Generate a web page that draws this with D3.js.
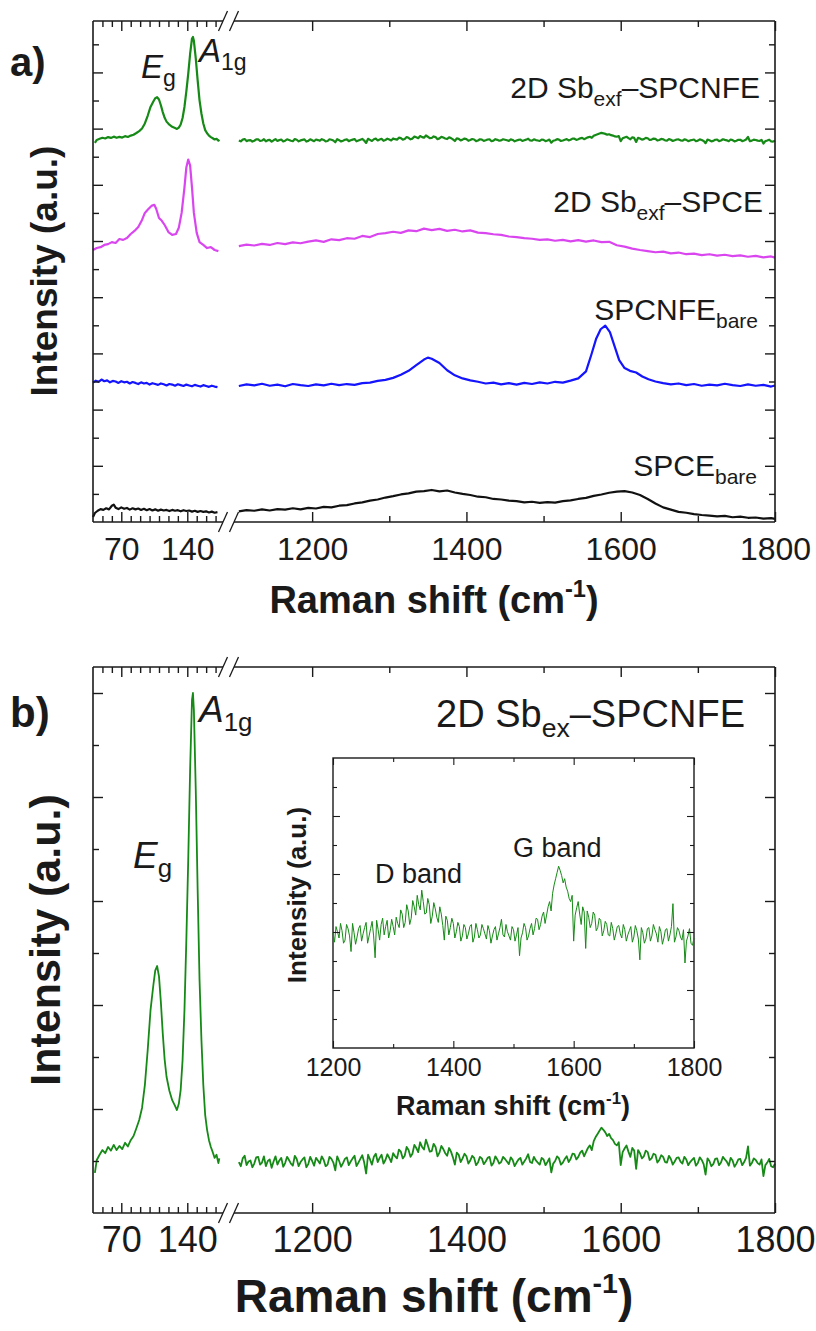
<!DOCTYPE html>
<html>
<head>
<meta charset="utf-8">
<script src="https://cdn.jsdelivr.net/npm/d3@7"></script>
<style>
  body { margin: 0; background: #fff; }
</style>
</head>
<body>
<div class="viz"></div>
<script>
// ---- spectra, [wavenumber (cm-1), intensity (a.u.)] ----
// 2D Sb exf on SPCNFE (same spectrum is used in a) top trace, b) and the inset)
const sbLow = [[42,0.77],[44,1.02],[47,1.12],[50,1.21],[53,1.15],[56,1.27],[59,1.20],[62,1.31],[65,1.21],[68,1.29],[71,1.23],[74,1.35],[77,1.28],[80,1.40],[83,1.48],[86,1.63],[89,1.79],[92,2.02],[95,2.46],[98,3.13],[101,3.90],[104,4.38],[106,4.66],[108,4.75],[110,4.55],[112,4.05],[114,3.45],[116,2.95],[118,2.62],[121,2.35],[124,2.17],[127,2.06],[129,1.98],[131,2.10],[133,2.37],[135,2.94],[137,3.90],[139,5.25],[141,6.79],[143,8.52],[145,9.87],[146,10.0],[147,9.67],[149,8.13],[151,6.21],[153,4.48],[155,3.33],[157,2.46],[159,1.88],[161,1.60],[163,1.40],[165,1.27],[167,1.17],[169,1.06],[171,1.12],[173,0.96],[174,1.05]];
const sbHigh = [[1105,0.98],[1110,1.05],[1115,0.92],[1120,1.01],[1125,0.95],[1130,1.08],[1135,0.97],[1140,0.90],[1145,1.03],[1150,0.99],[1155,0.93],[1160,1.06],[1165,0.96],[1170,1.02],[1175,0.91],[1180,1.04],[1185,0.98],[1190,1.07],[1195,0.94],[1200,1.00],[1205,1.06],[1210,0.95],[1215,1.02],[1220,0.93],[1225,1.04],[1230,0.82],[1235,1.00],[1240,0.96],[1245,1.07],[1250,0.99],[1255,1.10],[1260,0.97],[1265,1.11],[1270,0.76],[1275,1.03],[1280,1.08],[1285,0.98],[1290,1.12],[1295,1.02],[1300,1.06],[1305,1.15],[1310,1.05],[1315,1.18],[1320,1.10],[1325,1.21],[1330,1.14],[1335,1.25],[1340,1.36],[1345,1.22],[1350,1.30],[1355,1.19],[1360,1.27],[1365,1.16],[1370,1.23],[1375,1.10],[1380,1.18],[1385,0.93],[1390,1.12],[1395,1.05],[1400,1.09],[1405,1.01],[1410,1.06],[1415,0.97],[1420,1.05],[1425,0.99],[1430,1.08],[1435,0.96],[1440,1.03],[1445,0.98],[1450,1.04],[1455,0.94],[1460,1.02],[1465,0.97],[1470,1.06],[1475,0.99],[1480,1.13],[1485,0.96],[1490,1.01],[1495,0.93],[1500,1.03],[1505,0.98],[1510,0.78],[1515,1.00],[1520,1.05],[1525,0.97],[1530,1.09],[1535,1.04],[1540,1.13],[1545,1.08],[1550,1.20],[1555,1.17],[1560,1.30],[1565,1.38],[1570,1.52],[1575,1.64],[1580,1.55],[1585,1.52],[1590,1.40],[1595,1.30],[1600,0.92],[1605,1.24],[1610,1.18],[1615,1.25],[1620,0.85],[1625,1.15],[1630,1.09],[1635,1.17],[1640,1.05],[1645,1.12],[1650,1.02],[1655,1.08],[1660,0.97],[1665,1.04],[1670,0.99],[1675,1.07],[1680,0.95],[1685,1.03],[1690,0.98],[1695,1.06],[1700,0.96],[1705,1.02],[1710,0.74],[1715,1.00],[1720,0.94],[1725,1.05],[1730,0.97],[1735,1.03],[1740,0.91],[1745,1.01],[1750,0.95],[1755,1.04],[1760,0.98],[1765,1.28],[1770,0.96],[1775,1.02],[1780,0.93],[1785,0.71],[1790,0.97],[1795,0.90],[1800,0.95]];
// readings taken between the points above (the trace is very noisy)
const sbHighMid = [[1107.5,0.90],[1112.5,1.10],[1117.5,0.99],[1122.5,0.88],[1127.5,1.07],[1132.5,0.93],[1137.5,1.09],[1142.5,1.00],[1147.5,0.87],[1152.5,1.09],[1157.5,1.01],[1162.5,0.89],[1167.5,1.08],[1172.5,0.95],[1177.5,1.10],[1182.5,0.90],[1187.5,1.03],[1192.5,0.88],[1197.5,1.08],[1202.5,0.91],[1207.5,1.01],[1212.5,1.09],[1217.5,0.90],[1222.5,1.08],[1227.5,0.97],[1232.5,1.09],[1237.5,0.89],[1242.5,1.04],[1247.5,0.92],[1252.5,1.05],[1257.5,0.90],[1262.5,1.04],[1267.5,0.97],[1272.5,1.12],[1277.5,0.93],[1282.5,1.14],[1287.5,1.06],[1292.5,0.95],[1297.5,1.13],[1302.5,0.98],[1307.5,1.09],[1312.5,1.22],[1317.5,1.05],[1322.5,1.27],[1327.5,1.08],[1332.5,1.31],[1337.5,1.17],[1342.5,1.27],[1347.5,1.41],[1352.5,1.18],[1357.5,1.33],[1362.5,1.09],[1367.5,1.29],[1372.5,1.15],[1377.5,1.25],[1382.5,1.07],[1387.5,1.16],[1392.5,0.98],[1397.5,1.14],[1402.5,0.95],[1407.5,1.10],[1412.5,0.92],[1417.5,1.08],[1422.5,0.94],[1427.5,1.06],[1432.5,0.91],[1437.5,1.09],[1442.5,0.95],[1447.5,1.08],[1452.5,0.99],[1457.5,1.07],[1462.5,0.90],[1467.5,1.03],[1472.5,0.93],[1477.5,1.05],[1482.5,0.98],[1487.5,1.08],[1492.5,0.97],[1497.5,1.06],[1502.5,0.92],[1507.5,1.05],[1512.5,0.95],[1517.5,1.09],[1522.5,0.93],[1527.5,1.04],[1532.5,0.98],[1537.5,1.14],[1542.5,1.03],[1547.5,1.16],[1552.5,1.09],[1557.5,1.25],[1562.5,1.21],[1567.5,1.46],[1572.5,1.58],[1577.5,1.60],[1582.5,1.48],[1587.5,1.44],[1592.5,1.33],[1597.5,1.36],[1602.5,1.17],[1607.5,1.30],[1612.5,1.08],[1617.5,1.20],[1622.5,1.21],[1627.5,1.05],[1632.5,1.20],[1637.5,1.02],[1642.5,1.14],[1647.5,0.97],[1652.5,1.11],[1657.5,0.98],[1662.5,1.10],[1667.5,0.93],[1672.5,1.06],[1677.5,0.99],[1682.5,1.08],[1687.5,0.92],[1692.5,1.02],[1697.5,0.91],[1702.5,1.07],[1707.5,0.94],[1712.5,1.05],[1717.5,0.90],[1722.5,1.04],[1727.5,0.92],[1732.5,1.08],[1737.5,0.99],[1742.5,1.06],[1747.5,0.89],[1752.5,1.03],[1757.5,0.92],[1762.5,1.06],[1767.5,0.91],[1772.5,1.05],[1777.5,0.96],[1782.5,1.03],[1787.5,0.92],[1792.5,1.04],[1797.5,0.88]];

// 2D Sb exf on SPCE
const sbSpceLow = [[40,0.28],[44,0.35],[48,0.38],[52,0.46],[56,0.49],[60,0.56],[64,0.53],[68,0.67],[72,0.64],[76,0.71],[80,0.85],[84,0.96],[88,1.10],[92,1.35],[95,1.60],[98,1.71],[102,1.85],[105,1.89],[107,1.75],[110,1.42],[113,1.32],[116,1.17],[120,0.92],[124,0.82],[128,0.85],[131,1.07],[134,1.60],[137,2.50],[139,3.22],[141,3.50],[143,3.29],[145,2.50],[147,1.60],[150,0.89],[153,0.56],[157,0.46],[161,0.35],[165,0.38],[169,0.28],[173,0.24]];
const sbSpceHigh = [[1105,0.42],[1115,0.47],[1125,0.44],[1135,0.50],[1145,0.46],[1155,0.53],[1165,0.49],[1175,0.55],[1185,0.52],[1195,0.58],[1205,0.62],[1215,0.57],[1225,0.66],[1235,0.63],[1245,0.70],[1255,0.68],[1265,0.78],[1275,0.74],[1285,0.85],[1295,0.88],[1305,0.93],[1315,0.89],[1325,0.98],[1335,0.95],[1345,1.04],[1355,0.99],[1365,1.03],[1375,0.96],[1385,1.00],[1395,0.94],[1405,0.98],[1415,0.90],[1425,0.88],[1435,0.84],[1445,0.82],[1455,0.76],[1465,0.74],[1475,0.70],[1485,0.68],[1495,0.64],[1505,0.66],[1515,0.61],[1525,0.64],[1535,0.59],[1545,0.63],[1555,0.58],[1565,0.62],[1575,0.56],[1585,0.57],[1595,0.45],[1605,0.40],[1615,0.33],[1625,0.28],[1635,0.24],[1645,0.20],[1655,0.22],[1665,0.16],[1675,0.19],[1685,0.13],[1695,0.15],[1705,0.10],[1715,0.13],[1725,0.08],[1735,0.11],[1745,0.06],[1755,0.09],[1765,0.04],[1775,0.07],[1785,0.02],[1795,0.05],[1800,0.01]];

// bare SPCNFE
const cnfLow = [[40,0.30],[43,0.37],[46,0.33],[49,0.41],[52,0.35],[55,0.38],[58,0.31],[61,0.36],[64,0.34],[67,0.29],[70,0.35],[73,0.31],[76,0.33],[79,0.27],[82,0.32],[85,0.29],[88,0.25],[91,0.31],[94,0.27],[97,0.29],[100,0.23],[103,0.28],[106,0.25],[109,0.22],[112,0.27],[115,0.24],[118,0.20],[121,0.25],[124,0.23],[127,0.19],[130,0.24],[133,0.21],[136,0.18],[139,0.23],[142,0.20],[145,0.17],[148,0.22],[151,0.19],[154,0.16],[157,0.21],[160,0.18],[163,0.15],[166,0.19],[169,0.16],[172,0.14]];
const cnfHigh = [[1105,0.18],[1115,0.24],[1125,0.20],[1135,0.26],[1145,0.19],[1155,0.23],[1165,0.17],[1175,0.25],[1185,0.21],[1195,0.18],[1205,0.24],[1215,0.20],[1225,0.26],[1235,0.21],[1245,0.25],[1255,0.22],[1265,0.28],[1275,0.30],[1285,0.36],[1295,0.40],[1305,0.47],[1315,0.58],[1325,0.72],[1335,0.92],[1345,1.12],[1350,1.19],[1355,1.15],[1365,1.00],[1375,0.74],[1385,0.56],[1395,0.45],[1405,0.38],[1415,0.33],[1425,0.27],[1435,0.30],[1445,0.24],[1455,0.28],[1465,0.23],[1475,0.29],[1485,0.25],[1495,0.31],[1505,0.27],[1515,0.33],[1525,0.30],[1535,0.37],[1545,0.45],[1555,0.70],[1562,1.30],[1568,1.85],[1574,2.20],[1580,2.33],[1586,2.10],[1592,1.60],[1598,1.10],[1605,0.82],[1612,0.72],[1620,0.66],[1628,0.52],[1636,0.42],[1645,0.34],[1655,0.28],[1665,0.24],[1675,0.27],[1685,0.21],[1695,0.25],[1705,0.19],[1715,0.23],[1725,0.20],[1735,0.26],[1745,0.21],[1755,0.18],[1765,0.24],[1775,0.19],[1785,0.22],[1795,0.16],[1800,0.20]];

// bare SPCE
const spceLow = [[40,0.18],[42,0.32],[45,0.40],[48,0.46],[51,0.43],[54,0.49],[57,0.45],[60,0.58],[62,0.62],[64,0.51],[67,0.46],[70,0.52],[73,0.47],[76,0.50],[79,0.44],[82,0.49],[85,0.45],[88,0.48],[91,0.43],[94,0.47],[97,0.42],[100,0.46],[103,0.41],[106,0.45],[109,0.40],[112,0.44],[115,0.41],[118,0.43],[121,0.39],[124,0.43],[127,0.40],[130,0.42],[133,0.38],[136,0.42],[139,0.39],[142,0.41],[145,0.37],[148,0.40],[151,0.36],[154,0.39],[157,0.36],[160,0.38],[163,0.34],[166,0.37],[169,0.33],[172,0.35]];
const spceHigh = [[1105,0.38],[1115,0.42],[1125,0.40],[1135,0.45],[1145,0.41],[1155,0.46],[1165,0.44],[1175,0.49],[1185,0.45],[1195,0.50],[1205,0.48],[1215,0.54],[1225,0.52],[1235,0.58],[1245,0.60],[1255,0.66],[1265,0.70],[1275,0.76],[1285,0.80],[1295,0.87],[1305,0.92],[1315,0.98],[1325,1.02],[1335,1.08],[1345,1.10],[1355,1.14],[1365,1.09],[1375,1.12],[1385,1.05],[1395,1.00],[1405,0.96],[1415,0.90],[1425,0.88],[1435,0.82],[1445,0.80],[1455,0.76],[1465,0.74],[1475,0.70],[1485,0.72],[1495,0.68],[1505,0.71],[1515,0.69],[1525,0.74],[1535,0.77],[1545,0.82],[1555,0.86],[1565,0.93],[1575,0.98],[1585,1.04],[1595,1.08],[1605,1.10],[1615,1.05],[1625,0.96],[1635,0.82],[1645,0.66],[1655,0.52],[1665,0.44],[1675,0.36],[1685,0.33],[1695,0.28],[1705,0.25],[1715,0.23],[1725,0.20],[1735,0.22],[1745,0.17],[1755,0.19],[1765,0.15],[1775,0.16],[1785,0.12],[1795,0.14],[1800,0.11]];

// ---- axis ticks ----
const lowMajor = [70, 140];
const lowMinor = [50, 60, 80, 90, 100, 110, 120, 130, 150, 160, 170];
const highMajor = [1200, 1400, 1600, 1800];
const highMinor = [1300, 1500, 1700];
const insetMajor = [1200, 1400, 1600, 1800];
const insetMinor = [1300, 1500, 1700];

const ink = "#1a1a1a";
const font = "'Liberation Sans', Arial, Helvetica, sans-serif";
const colors = { sb: "#168a16", sbSpce: "#d946ef", cnf: "#1414ff", spce: "#111111" };

const sbHighAll = sbHigh.concat(sbHighMid).sort((a, b) => a[0] - b[0]);

const width = 816, height = 1331;
const frameL = 93, frameR = 775, breakL = 223, breakR = 234;

const lowX = d3.scaleLinear().domain([40, 180]).range([frameL, 225]);
const highX = d3.scaleLinear().domain([1100, 1800]).range([235, frameR]);

const svg = d3.select(".viz").append("svg")
  .attr("width", width)
  .attr("height", height)
  .style("display", "block")
  .attr("font-family", font);

function styleAxis(a, fontSize, lw) {
  a.select(".domain").remove();
  a.selectAll("line").attr("stroke", ink).attr("stroke-width", lw);
  a.selectAll("text").attr("font-size", fontSize).attr("fill", ink).attr("font-family", font);
}

// inward ticks on all four sides of a frame
function tickSet(g, y, opt) {
  const [bottom, top] = y.range();
  const [left, right] = opt.xEdges;
  const fmt = d3.format("d");
  const add = (axis, tr, size, labels) => {
    const a = g.append("g").attr("transform", tr)
      .call(axis.tickSize(-size).tickPadding(opt.pad).tickFormat(labels ? fmt : ""));
    styleAxis(a, opt.tickFont, opt.lw);
  };
  opt.xSets.forEach(s => {
    add(d3.axisBottom(s.scale).tickValues(s.major), `translate(0,${bottom})`, opt.major, true);
    add(d3.axisBottom(s.scale).tickValues(s.minor), `translate(0,${bottom})`, opt.minor, false);
    add(d3.axisTop(s.scale).tickValues(s.major), `translate(0,${top})`, opt.major, false);
    add(d3.axisTop(s.scale).tickValues(s.minor), `translate(0,${top})`, opt.minor, false);
  });
  const yMajor = opt.yTicks.filter((d, i) => i % 2 === 1);
  const yMinor = opt.yTicks.filter((d, i) => i % 2 === 0);
  [[yMajor, opt.major], [yMinor, opt.minor]].forEach(([vals, size]) => {
    add(d3.axisLeft(y).tickValues(vals), `translate(${left},0)`, size, false);
    add(d3.axisRight(y).tickValues(vals), `translate(${right},0)`, size, false);
  });
}

function brokenFrame(g, y) {
  const [bottom, top] = y.range();
  const f = g.append("g").attr("stroke", ink).attr("stroke-width", 1.6).attr("fill", "none");
  f.append("line").attr("x1", frameL).attr("x2", frameL).attr("y1", top).attr("y2", bottom);
  f.append("line").attr("x1", frameR).attr("x2", frameR).attr("y1", top).attr("y2", bottom);
  [top, bottom].forEach(yy => {
    f.append("line").attr("x1", frameL).attr("x2", breakL).attr("y1", yy).attr("y2", yy);
    f.append("line").attr("x1", breakR).attr("x2", frameR).attr("y1", yy).attr("y2", yy);
    [breakL, breakR].forEach(bx => {
      f.append("line")
        .attr("x1", bx - 4.5).attr("y1", yy + 10)
        .attr("x2", bx + 4.5).attr("y2", yy - 10)
        .attr("stroke-width", 1.3);
    });
  });
}

// text made of runs; run = {t, sub, sup, it}
function richText(g, x, y, runs, size, opt = {}) {
  const t = g.append("text")
    .attr("x", x).attr("y", y)
    .attr("font-size", size)
    .attr("fill", ink)
    .attr("text-anchor", opt.anchor || "start")
    .attr("font-weight", opt.bold ? "bold" : "normal");
  if (opt.transform) t.attr("transform", opt.transform);
  let shift = 0;
  runs.forEach(r => {
    const s = t.append("tspan").text(r.t);
    let target = 0;
    if (r.sub) { s.attr("font-size", size * 0.7); target = size * 0.25; }
    if (r.sup) { s.attr("font-size", size * 0.62); target = -size * 0.42; }
    if (r.it) s.attr("font-style", "italic");
    if (target !== shift) { s.attr("dy", target - shift); shift = target; }
  });
  return t;
}

function yTickValues(y, n) {
  const [y0, y1] = y.domain();
  return d3.range(1, n).map(i => y0 + i * (y1 - y0) / n);
}

function drawSpectrum(g, x, y, data, color, lw, offset = 0, scale = 1) {
  g.append("path")
    .datum(data)
    .attr("fill", "none")
    .attr("stroke", color)
    .attr("stroke-width", lw)
    .attr("stroke-linejoin", "round")
    .attr("d", d3.line().x(d => x(d[0])).y(d => y(offset + scale * d[1])));
}

const xSets = [
  { scale: lowX, major: lowMajor, minor: lowMinor },
  { scale: highX, major: highMajor, minor: highMinor }
];

// ================= panel a) =================
const ga = svg.append("g");
const yA = d3.scaleLinear().domain([0, 17.83]).range([522, 21]);

const stackA = [
  { low: sbLow, high: sbHighAll, color: colors.sb, offset: 13.18, scale: 0.408 },
  { low: sbSpceLow, high: sbSpceHigh, color: colors.sbSpce, offset: 9.4, scale: 1 },
  { low: cnfLow, high: cnfHigh, color: colors.cnf, offset: 4.66, scale: 1 },
  { low: spceLow, high: spceHigh, color: colors.spce, offset: 0, scale: 1 }
];
stackA.forEach(s => {
  drawSpectrum(ga, lowX, yA, s.low, s.color, 2.2, s.offset, s.scale);
  drawSpectrum(ga, highX, yA, s.high, s.color, 2.2, s.offset, s.scale);
});

brokenFrame(ga, yA);
tickSet(ga, yA, {
  xEdges: [frameL, frameR], xSets, yTicks: d3.range(1, 18),
  major: 10, minor: 6, pad: 15, tickFont: 32, lw: 1.4
});

richText(ga, 10, 76, [{ t: "a)" }], 40, { bold: true });
richText(ga, 141, 78, [{ t: "E", it: true }, { t: "g", sub: true }], 33);
richText(ga, 199, 62, [{ t: "A", it: true }, { t: "1g", sub: true }], 33);

richText(ga, 760, 98, [{ t: "2D Sb" }, { t: "exf", sub: true }, { t: "\u2013SPCNFE" }], 30, { anchor: "end" });
richText(ga, 763, 212, [{ t: "2D Sb" }, { t: "exf", sub: true }, { t: "\u2013SPCE" }], 30, { anchor: "end" });
richText(ga, 758, 320, [{ t: "SPCNFE" }, { t: "bare", sub: true }], 30, { anchor: "end" });
richText(ga, 757, 476, [{ t: "SPCE" }, { t: "bare", sub: true }], 30, { anchor: "end" });

richText(ga, 0, 0, [{ t: "Intensity (a.u.)" }], 37,
  { bold: true, anchor: "middle", transform: "translate(57,271) rotate(-90)" });
richText(ga, 434, 613, [{ t: "Raman shift (cm" }, { t: "-1", sup: true }, { t: ")" }], 38,
  { bold: true, anchor: "middle" });

// ================= panel b) =================
const gb = svg.append("g");
const yB = d3.scaleLinear().domain([0, 10.5]).range([1213, 667]);

drawSpectrum(gb, lowX, yB, sbLow, colors.sb, 1.8);
drawSpectrum(gb, highX, yB, sbHighAll, colors.sb, 1.8);

brokenFrame(gb, yB);
tickSet(gb, yB, {
  xEdges: [frameL, frameR], xSets, yTicks: d3.range(1, 11),
  major: 10, minor: 6, pad: 13, tickFont: 36, lw: 1.4
});

richText(gb, 10, 727, [{ t: "b)" }], 42, { bold: true });
richText(gb, 133, 868, [{ t: "E", it: true }, { t: "g", sub: true }], 37);
richText(gb, 199, 722, [{ t: "A", it: true }, { t: "1g", sub: true }], 37);
richText(gb, 745, 727, [{ t: "2D Sb" }, { t: "ex", sub: true }, { t: "\u2013SPCNFE" }], 38, { anchor: "end" });

richText(gb, 0, 0, [{ t: "Intensity (a.u.)" }], 43,
  { bold: true, anchor: "middle", transform: "translate(60,940) rotate(-90)" });
richText(gb, 434, 1312, [{ t: "Raman shift (cm" }, { t: "-1", sup: true }, { t: ")" }], 46,
  { bold: true, anchor: "middle" });

// ---- inset ----
const gi = gb.append("g");
const xIn = d3.scaleLinear().domain([1200, 1800]).range([333, 694]);
const yIn = d3.scaleLinear().domain([-0.107, 2.68]).range([1048, 758]);

gi.append("rect")
  .attr("x", 333).attr("y", 758).attr("width", 694 - 333).attr("height", 1048 - 758)
  .attr("fill", "#fff").attr("stroke", ink).attr("stroke-width", 1.4);

drawSpectrum(gi, xIn, yIn, sbHighAll.filter(d => d[0] >= 1200), colors.sb, 1.0);

tickSet(gi, yIn, {
  xEdges: [333, 694],
  xSets: [{ scale: xIn, major: insetMajor, minor: insetMinor }],
  yTicks: yTickValues(yIn, 10),
  major: 7, minor: 4, pad: 10, tickFont: 25, lw: 1.1
});

richText(gi, 375, 883, [{ t: "D band" }], 27);
richText(gi, 513, 857, [{ t: "G band" }], 27);
richText(gi, 0, 0, [{ t: "Intensity (a.u.)" }], 26,
  { bold: true, anchor: "middle", transform: "translate(306,895) rotate(-90)" });
richText(gi, 513, 1115, [{ t: "Raman shift (cm" }, { t: "-1", sup: true }, { t: ")" }], 27,
  { bold: true, anchor: "middle" });
</script>
</body>
</html>
